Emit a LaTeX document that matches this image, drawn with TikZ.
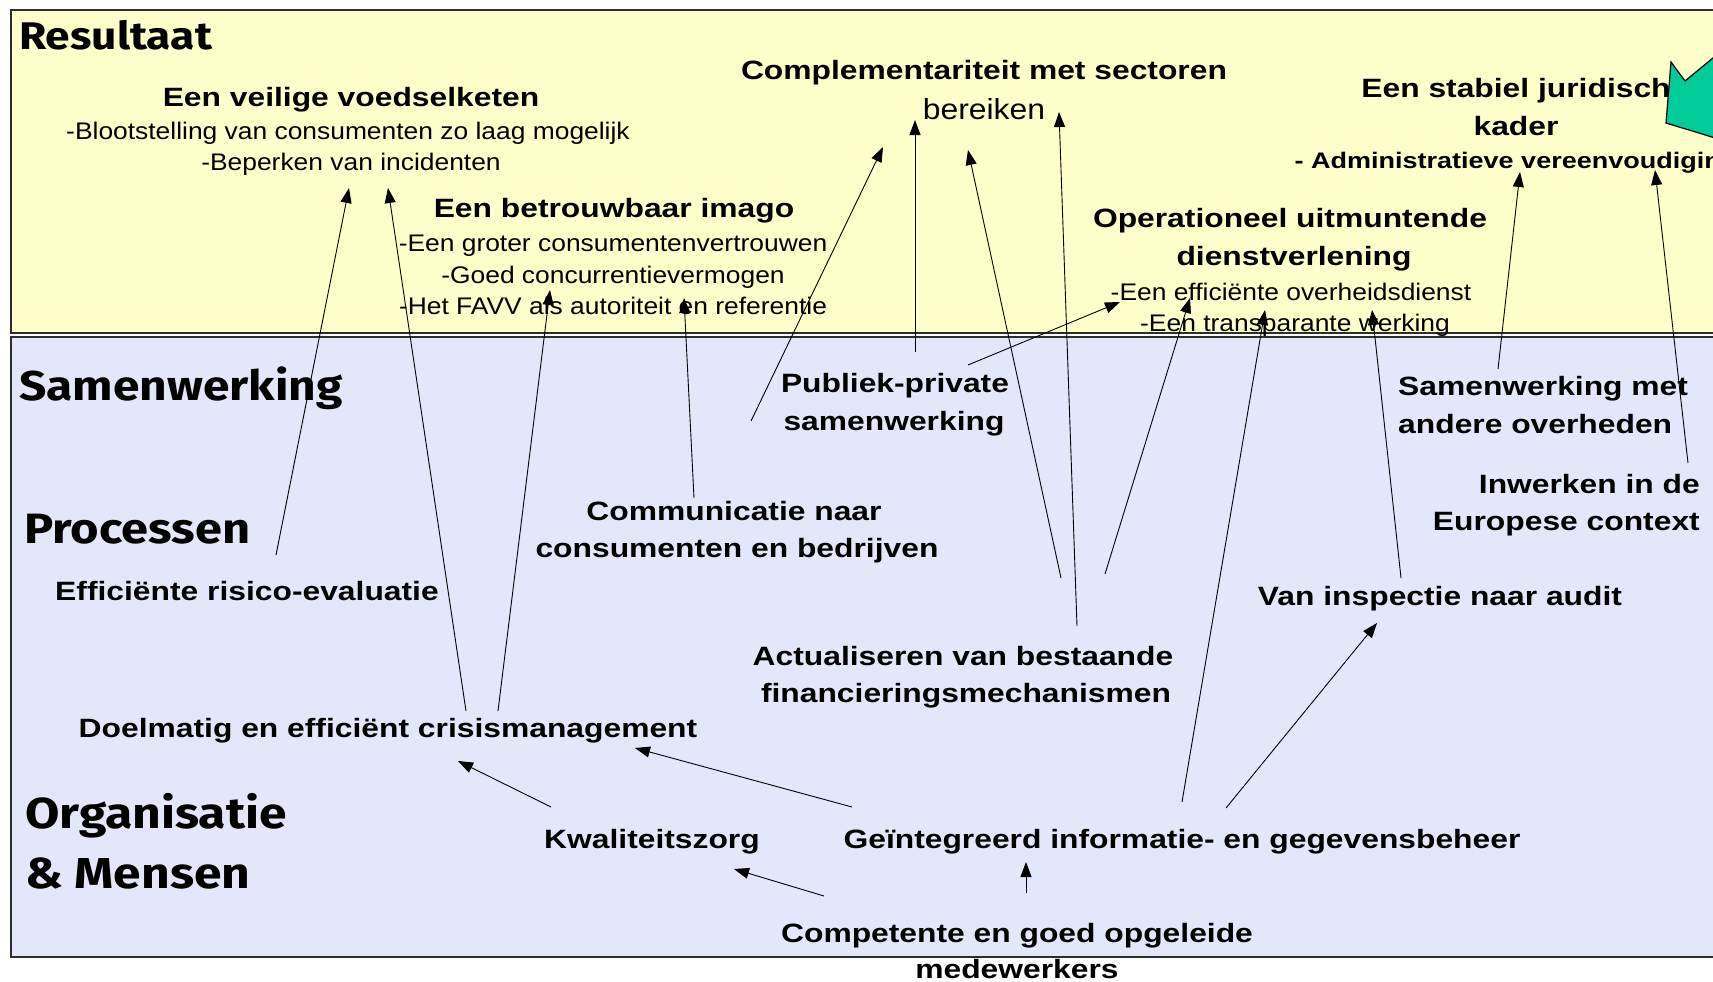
\documentclass[tikz,border=0pt]{standalone}
\usepackage{fontspec}
\setmainfont{Liberation Sans}[FakeStretch=1.2]
\newfontfamily\regfont{Liberation Sans}[FakeStretch=1.1]
\newfontfamily\headfont{Fira Sans}[FakeStretch=1.15]
\usetikzlibrary{arrows.meta}
\definecolor{resyellow}{RGB}{255,255,204}
\definecolor{reslavender}{RGB}{228,231,250}
\definecolor{arrowgreen}{RGB}{0,204,153}
\definecolor{boxline}{RGB}{45,45,45}
\begin{document}
\begin{tikzpicture}[x=1pt,y=-1pt,
  hd/.style={anchor=base west,inner sep=0pt,font=\headfont\bfseries\fontsize{#1}{#1}\selectfont},
  bt/.style={anchor=base,inner sep=0pt,font=\bfseries\fontsize{26.5}{30}\selectfont},
  bts/.style={anchor=base,inner sep=0pt,font=\bfseries\fontsize{22.5}{26}\selectfont},
  rt/.style={anchor=base,inner sep=0pt,font=\regfont\fontsize{24}{28}\selectfont},
  rtl/.style={anchor=base,inner sep=0pt,font=\regfont\fontsize{29}{32}\selectfont},
  arr/.style={-{Triangle[length=15pt,width=11pt]},line width=0.9pt},
  panel/.style={draw=boxline,line width=2pt}]
\useasboundingbox (0,0) rectangle (1713,982);
\clip (0,0) rectangle (1713,982);
% panels
\path[panel,fill=resyellow] (11,10) rectangle (1740,333);
\path[panel,fill=reslavender] (11,337) rectangle (1740,957);
% headings
\node[hd=38.5] (resultaat) at (19,50) {Resultaat};
\node[hd=41.6] (samenw) at (19,400) {Samenwerking};
\node[hd=42.4] (processen) at (24,543) {Processen};
\node[hd=43.3] (organisatie) at (25,828) {Organisatie};
\node[hd=43.3] (mensen) at (25,888) {\& Mensen};
% result texts
\node[bt] (veilig) at (351,106) {Een veilige voedselketen};
\node[rt] (veilig1) at (348,139) {-Blootstelling van consumenten zo laag mogelijk};
\node[rt] (veilig2) at (351,170) {-Beperken van incidenten};
\node[bt] (imago) at (614,217) {Een betrouwbaar imago};
\node[rt] (imago1) at (613,251) {-Een groter consumentenvertrouwen};
\node[rt] (imago2) at (613,283) {-Goed concurrentievermogen};
\node[rt] (imago3) at (613,314) {-Het FAVV als autoriteit en referentie};
\node[bt] (compl) at (984,80) {Complementariteit met sectoren};
\node[rtl] (compl2) at (984,119) {bereiken};
\node[bt] (jur) at (1516,97) {Een stabiel juridisch};
\node[bt] (jur2) at (1516,135) {kader};
\node[bts] (jur3) at (1516,168) {- Administratieve vereenvoudiging};
\node[bt] (oper) at (1290,227) {Operationeel uitmuntende};
\node[bt] (oper2) at (1294,265) {dienstverlening};
\node[rt] (oper3) at (1291,300) {-Een efficiënte overheidsdienst};
\node[rt] (oper4) at (1295,331) {-Een transparante werking};
% lower texts
\node[bt] (pps) at (895,392) {Publiek-private};
\node[bt] (pps2) at (894,430) {samenwerking};
\node[bt,anchor=base west] (overh) at (1398,395) {Samenwerking met};
\node[bt,anchor=base west] (overh2) at (1398,433) {andere overheden};
\node[bt,anchor=base east] (europa) at (1700,493) {Inwerken in de};
\node[bt,anchor=base east] (europa2) at (1700,530) {Europese context};
\node[bt] (comm) at (734,520) {Communicatie naar};
\node[bt] (comm2) at (737,557) {consumenten en bedrijven};
\node[bt] (risico) at (247,600) {Efficiënte risico-evaluatie};
\node[bt] (audit) at (1440,605) {Van inspectie naar audit};
\node[bt] (actual) at (963,665) {Actualiseren van bestaande};
\node[bt] (actual2) at (966,702) {financieringsmechanismen};
\node[bt] (crisis) at (388,737) {Doelmatig en efficiënt crisismanagement};
\node[bt] (kwal) at (652,848) {Kwaliteitszorg};
\node[bt] (info) at (1182,848) {Geïntegreerd informatie- en gegevensbeheer};
\node[bt] (comp) at (1017,942) {Competente en goed opgeleide};
\node[bt] (comp2) at (1017,978) {medewerkers};
% green arrow fragment
\draw[fill=arrowgreen,line width=1.2pt] (1671,62) -- (1685,81) -- (1725,48) -- (1725,141) -- (1666,123) -- cycle;
% connector end points
\coordinate (risico-o) at (276,555);   \coordinate (veilig-i1) at (349,188);
\coordinate (crisis-o1) at (466,711);  \coordinate (veilig-i2) at (388,188);
\coordinate (crisis-o2) at (498,711);  \coordinate (imago-i1) at (550,290);
\coordinate (comm-o) at (694,498);     \coordinate (imago-i2) at (684,298);
\coordinate (pps-o1) at (751,421);     \coordinate (compl-i1) at (883,147);
\coordinate (pps-o2) at (915,352);     \coordinate (compl-i2) at (915,120);
\coordinate (pps-o3) at (968,365);     \coordinate (oper-i1) at (1120,302);
\coordinate (actual-o1) at (1061,578); \coordinate (compl-i3) at (968,150);
\coordinate (actual-o2) at (1077,626); \coordinate (compl-i4) at (1059,112);
\coordinate (actual-o3) at (1105,574); \coordinate (oper-i2) at (1190,298);
\coordinate (info-o1) at (1182,802);   \coordinate (oper-i3) at (1265,310);
\coordinate (audit-o) at (1401,578);   \coordinate (oper-i4) at (1372,310);
\coordinate (overh-o) at (1498,369);   \coordinate (jur-i1) at (1520,172);
\coordinate (europa-o) at (1688,463);  \coordinate (jur-i2) at (1655,170);
\coordinate (info-o2) at (1226,808);   \coordinate (audit-i) at (1377,623);
\coordinate (info-o3) at (852,807);    \coordinate (crisis-i1) at (635,748);
\coordinate (kwal-o) at (551,807);     \coordinate (crisis-i2) at (458,761);
\coordinate (comp-o1) at (824,896);    \coordinate (kwal-i) at (734,869);
\coordinate (comp-o2) at (1026,893);   \coordinate (info-i) at (1026,862);
% connectors
\draw[arr] (risico-o) -- (veilig-i1);
\draw[arr] (crisis-o1) -- (veilig-i2);
\draw[arr] (crisis-o2) -- (imago-i1);
\draw[arr] (comm-o) -- (imago-i2);
\draw[arr] (pps-o1) -- (compl-i1);
\draw[arr] (pps-o2) -- (compl-i2);
\draw[arr] (pps-o3) -- (oper-i1);
\draw[arr] (actual-o1) -- (compl-i3);
\draw[arr] (actual-o2) -- (compl-i4);
\draw[arr] (actual-o3) -- (oper-i2);
\draw[arr] (info-o1) -- (oper-i3);
\draw[arr] (audit-o) -- (oper-i4);
\draw[arr] (overh-o) -- (jur-i1);
\draw[arr] (europa-o) -- (jur-i2);
\draw[arr] (info-o2) -- (audit-i);
\draw[arr] (info-o3) -- (crisis-i1);
\draw[arr] (kwal-o) -- (crisis-i2);
\draw[arr] (comp-o1) -- (kwal-i);
\draw[arr] (comp-o2) -- (info-i);
\end{tikzpicture}
\end{document}
